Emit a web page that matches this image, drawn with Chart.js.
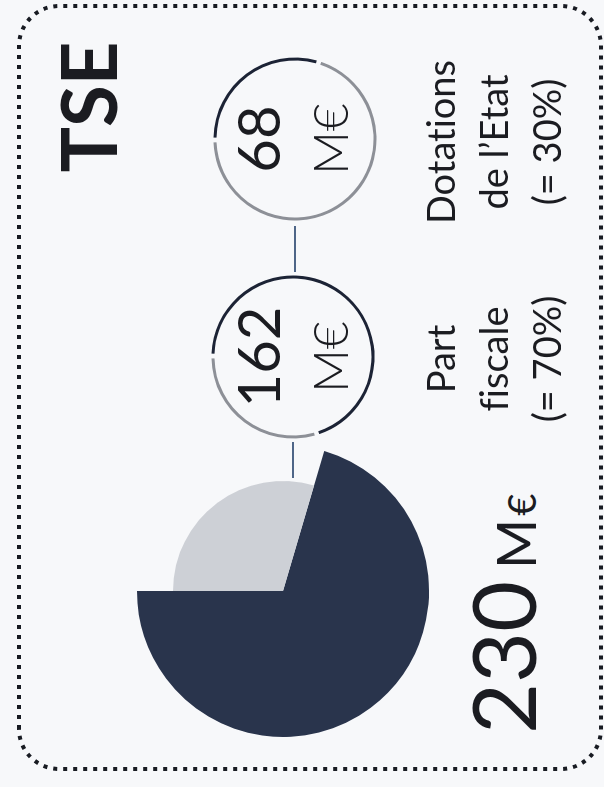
<!doctype html>
<html>

<head>
  <title>TSE</title>
  <script src="https://cdn.jsdelivr.net/npm/chart.js@4.4.1/dist/chart.umd.min.js"></script>
  <style>
    html, body {
      margin: 0;
      padding: 0;
      background: #f7f8fa;
      overflow: hidden;
    }
    body {
      width: 604px;
      height: 787px;
      position: relative;
      font-family: Lato, "Open Sans", sans-serif;
      font-variant-ligatures: none;
      color: #1b1c21;
    }
    /* the card is laid out in landscape, then turned a quarter turn left */
    .card {
      position: absolute;
      left: 0;
      top: 0;
      width: 787px;
      height: 604px;
      transform-origin: 0 0;
      transform: translateY(787px) rotate(-90deg);
    }
    .card > * {
      position: absolute;
    }
    .title {
      left: 580px;
      top: 42px;
      width: 200px;
      text-align: center;
      font-size: 76px;
      font-weight: 700;
      line-height: 1.2;
    }
    .total {
      left: 53px;
      top: 450px;
      display: flex;
      align-items: baseline;
      line-height: 1.2;
    }
    .total .num { font-size: 88px; }
    .total .m { font-size: 54px; margin-left: 12px; }
    .total .eur { font-size: 38px; margin-left: 3px; }
    .ring-num {
      width: 160px;
      text-align: center;
      font-size: 58px;
      line-height: 1.2;
    }
    .ring-unit {
      width: 160px;
      text-align: center;
      font-size: 48px;
      font-weight: 300;
      line-height: 1.2;
    }
    .label {
      width: 220px;
      text-align: center;
      font-size: 38px;
      line-height: 53px;
    }
  </style>
</head>

<body>
  <div class="card" id="card">
    <svg class="deco" width="787" height="604" style="left:0;top:0">
      <rect x="18" y="19" width="763" height="582" rx="40" fill="none"
            stroke="#181b22" stroke-width="4" stroke-dasharray="4 6"/>
      <line x1="309" y1="293" x2="345" y2="293" stroke="#24406b" stroke-width="1.6"/>
      <line x1="515" y1="295" x2="561" y2="295" stroke="#24406b" stroke-width="1.6"/>
    </svg>
    <canvas id="pie" width="300" height="300" style="left:46px;top:133px"></canvas>
    <canvas id="ring0" width="180" height="180" style="left:340px;top:203px"></canvas>
    <canvas id="ring1" width="180" height="180" style="left:558px;top:205px"></canvas>
    <div class="title">TSE</div>
  </div>

  <script>
    // M€ per source of funding
    var labelLines = [['Part', 'fiscale'], ['Dotations', 'de l\u2019Etat']];
    var values = [162, 68];
    var unit = 'M\u20ac';

    var total = values.reduce(function(a, b) { return a + b; }, 0);
    var dark = '#29344c';
    var light = '#cdd0d6';
    var ringDark = '#1c2335';
    var ringGrey = '#8d9097';

    // where each ring and its texts sit on the card
    var groups = [
      {cx: 430, label: 428, numTop: 223, unitTop: 301},
      {cx: 648, label: 645, numTop: 223, unitTop: 301}
    ];

    var card = document.getElementById('card');

    function addDiv(cls, html, left, top) {
      var d = document.createElement('div');
      d.className = cls;
      d.innerHTML = html;
      d.style.left = left + 'px';
      d.style.top = top + 'px';
      card.appendChild(d);
      return d;
    }

    addDiv('total',
      '<span class="num">' + total + '</span><span class="m">M</span><span class="eur">\u20ac</span>',
      53, 450);

    groups.forEach(function(g, i) {
      var pct = Math.round(values[i] / total * 100);
      addDiv('ring-num', values[i], g.cx - 80, g.numTop);
      addDiv('ring-unit', unit, g.cx - 80, g.unitTop);
      addDiv('label', labelLines[i].concat(['(= ' + pct + '%)']).join('<br>'), g.label - 110, 414);
    });

    // the pie draws its light slice on a smaller radius than the dark one
    var sliceRadius = {
      id: 'sliceRadius',
      afterDatasetUpdate: function(chart, args, opts) {
        args.meta.data.forEach(function(arc, i) {
          if (opts.radii && opts.radii[i]) {
            arc.outerRadius = opts.radii[i];
          }
        });
      }
    };

    var common = {
      responsive: false,
      animation: false,
      events: [],
      plugins: {
        legend: { display: false },
        tooltip: { enabled: false }
      }
    };

    new Chart(document.getElementById('pie'), {
      type: 'pie',
      data: {
        labels: labelLines.map(function(l) { return l.join(' '); }),
        datasets: [{
          data: values,
          backgroundColor: [dark, light],
          borderWidth: 0
        }]
      },
      options: Object.assign({}, common, {
        radius: 146,
        rotation: -values[0] / total * 360,
        plugins: Object.assign({}, common.plugins, {
          sliceRadius: { radii: [146, 110] }
        })
      }),
      plugins: [sliceRadius]
    });

    // one thin ring per source: its share in dark, starting at twelve o'clock
    values.forEach(function(v, i) {
      new Chart(document.getElementById('ring' + i), {
        type: 'doughnut',
        data: {
          labels: ['share', 'rest'],
          datasets: [{
            data: [v, total - v],
            backgroundColor: [ringDark, ringGrey],
            borderWidth: 0,
            spacing: 3
          }]
        },
        options: Object.assign({}, common, {
          radius: 80,
          cutout: ((80 - 3) / 80 * 100) + '%'
        })
      });
    });
  </script>
</body>

</html>
